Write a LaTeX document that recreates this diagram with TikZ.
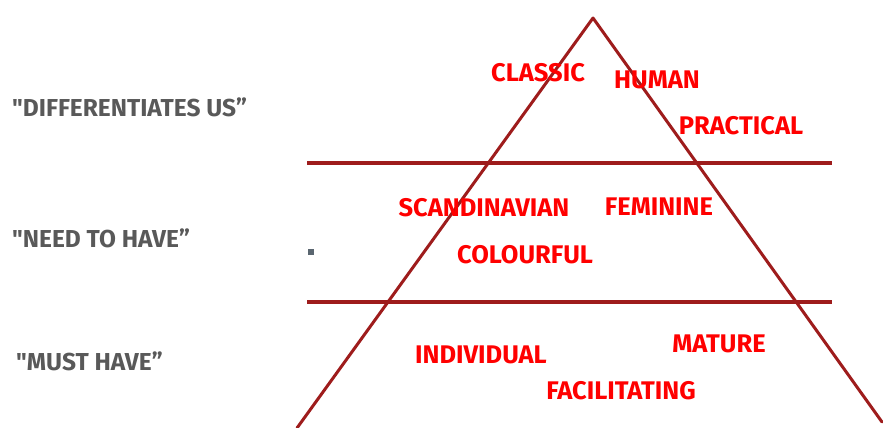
\documentclass[tikz,border=0pt]{standalone}
\usepackage{fontspec}
\setmainfont{Fira Sans}
\definecolor{pyramidred}{HTML}{9E1C1C}
\definecolor{traitred}{HTML}{FF0000}
\definecolor{tiergray}{HTML}{595959}
\definecolor{markgray}{HTML}{5A6670}
\begin{document}
\begin{tikzpicture}[x=1pt, y=-1pt, line join=round, line cap=round,
  trait/.style={text=traitred, inner sep=0pt, font=\bfseries\fontsize{25.5}{25}\selectfont},
  tier/.style={text=tiergray, inner sep=0pt, anchor=west, font=\bfseries\fontsize{24.5}{25}\selectfont}]
				\useasboundingbox (0,0) rectangle (883,428);
				\path
				(593,18) coordinate (apex)
				(297,428) coordinate (baseL)
				(882,422) coordinate (baseR)
				\foreach \y/\n in {163/up,302/low}{(307,\y) coordinate (\n L) (832,\y) coordinate (\n R)}
				;
				\draw[pyramidred, line width=3pt] (baseL)--(apex)--(baseR);
				\draw[pyramidred, line width=4pt, line cap=butt] (upL)--(upR) (lowL)--(lowR);
				\fill[markgray] (308,249) rectangle (314,255);
				\foreach \n/\t/\x/\y in {classic/CLASSIC/538/73, human/HUMAN/657/80, practical/PRACTICAL/741/126,
					scand/SCANDINAVIAN/484/208, feminine/FEMININE/659/207, colourful/COLOURFUL/525/255,
					individual/INDIVIDUAL/481/355, mature/MATURE/719/344, facil/FACILITATING/621/391}
					\node[trait] (\n) at (\x,\y) {\t};
				\node[tier] (diff) at (12,107) {\textquotedbl DIFFERENTIATES US”};
				\node[tier] (need) at (12,238) {\textquotedbl NEED TO HAVE”};
				\node[tier] (must) at (16,361) {\textquotedbl MUST HAVE”};
		\end{tikzpicture}
\end{document}
